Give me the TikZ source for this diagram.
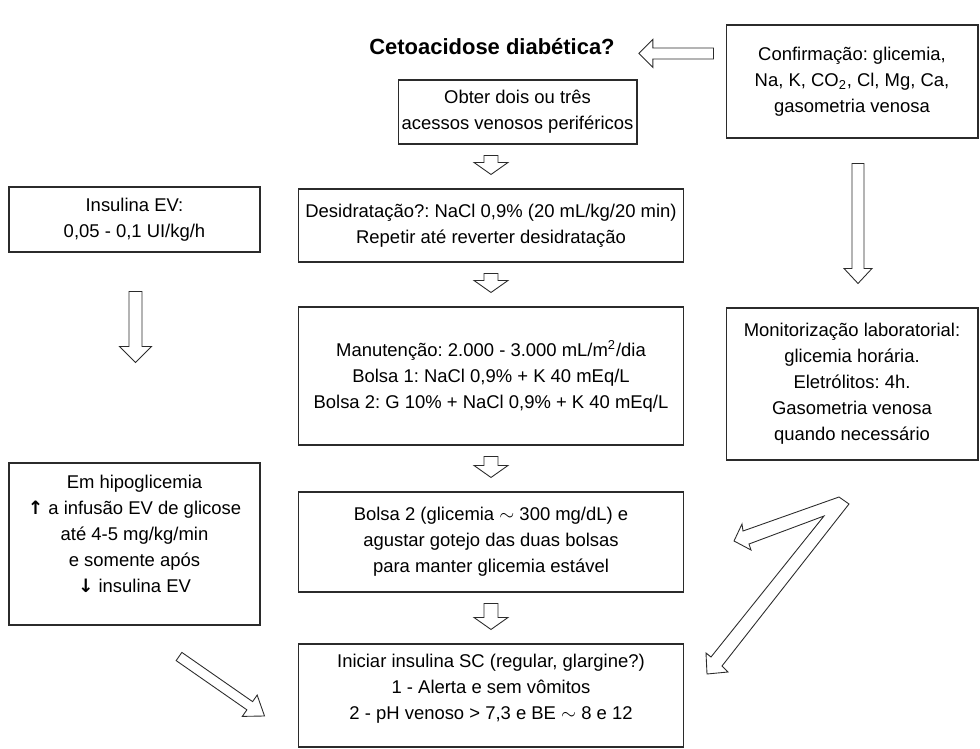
\documentclass[tikz,border=0pt]{standalone}
\usepackage{fontspec}
\setmainfont{Liberation Sans}
\newfontfamily\symfont{DejaVu Sans}
\usetikzlibrary{calc, positioning}
\definecolor{linha}{HTML}{2b2b2b}
\frenchspacing

\newcommand{\hollowarrow}[5]{%
  \coordinate (ha) at ($(#2)!#5!(#1)$);
  \draw[blockarrow] ($(#1)!#3!90:(#2)$) -- ($(ha)!#3!-90:(#1)$) -- ($(ha)!#4!-90:(#1)$) -- (#2)
    -- ($(ha)!#4!90:(#1)$) -- ($(ha)!#3!90:(#1)$) -- ($(#1)!#3!-90:(#2)$) -- cycle;
}

\begin{document}
\begin{tikzpicture}[x=0.02cm, y=-0.02cm,
    box/.style={draw = linha, line width=0.6pt, align=center, inner sep=2pt,
        font=\fontsize{10.5}{14.8}\selectfont},
    blockarrow/.style={draw = linha, line width=0.5pt, line join=miter, fill=white},
    titulo/.style={font=\fontsize{12.5}{15}\selectfont\bfseries}]
    \useasboundingbox (0,0) rectangle (980,749);
    \node[titulo] (title) at (492,47) {Cetoacidose diabética?};
    \node[box, minimum width=5.04cm, minimum height=2.26cm] (confirm) at (852,81.5)
        {Confirmação: glicemia,\\ Na, K, CO\textsubscript{2}, Cl, Mg, Ca,\\ gasometria venosa};
    \node[box, minimum width=4.78cm, minimum height=1.28cm] (obter) at (517.5,112)
        {Obter dois ou três\\ acessos venosos periféricos};
    \node[box, minimum width=7.72cm, minimum height=1.46cm] (desid) at (491,225.5)
        {Desidratação?: NaCl 0,9\% (20 mL/kg/20 min)\\ Repetir até reverter desidratação};
    \node[box, minimum width=5.02cm, minimum height=1.30cm] (insul) at (134.5,219.5)
        {Insulina EV:\\ 0,05 - 0,1 UI/kg/h};
    \node[box, minimum width=7.72cm, minimum height=2.76cm] (manut) at (491,376)
        {Manutenção: 2.000 - 3.000 mL/m\textsuperscript{2}/dia\\ Bolsa 1: NaCl 0,9\% + K 40 mEq/L\\ Bolsa 2: G 10\% + NaCl 0,9\% + K 40 mEq/L};
    \node[box, minimum width=5.04cm, minimum height=3.04cm] (monit) at (852,384)
        {Monitorização laboratorial:\\ glicemia horária.\\ Eletrólitos: 4h.\\ Gasometria venosa\\ quando necessário};
    \node[box, minimum width=5.02cm, minimum height=3.24cm] (hipo) at (134.5,544)
        {Em hipoglicemia\\ {\symfont\bfseries ↑} a infusão EV de glicose\\ até 4-5 mg/kg/min\\ e somente após\\ {\symfont\bfseries ↓} insulina EV\\[-3pt] \mbox{}};
    \node[box, minimum width=7.72cm, minimum height=2.00cm] (bolsa) at (491,542)
        {Bolsa 2 (glicemia $\sim$ 300 mg/dL) e\\ agustar gotejo das duas bolsas\\ para manter glicemia estável};
    \node[box, minimum width=7.72cm, minimum height=2.06cm] (inic) at (491,695.5)
        {Iniciar insulina SC (regular, glargine?)\\ 1 - Alerta e sem vômitos\\ 2 - pH venoso > 7,3 e BE $\sim$ 8 e 12\\[-5pt] \mbox{}};

    \coordinate (confA) at ($(confirm.west)+(-12,-28)$);
    \coordinate (confB) at ($(title.east)+(18,6.5)$);
    \hollowarrow{confA}{confB}{0.11cm}{0.28cm}{0.28cm}
    \coordinate (confC) at ($(confirm.south)+(6,25)$);
    \coordinate (confD) at ($(monit.north)+(6,-24)$);
    \hollowarrow{confC}{confD}{0.12cm}{0.28cm}{0.30cm}
    \coordinate (insA) at ($(insul.south)+(1,39)$);
    \coordinate (insB) at ($(insA)+(0,71)$);
    \hollowarrow{insA}{insB}{0.13cm}{0.32cm}{0.32cm}
    \coordinate (hipA) at ($(hipo.south)+(44.5,31)$);
    \coordinate (hipB) at ($(inic.west)+(-33,20.5)$);
    \hollowarrow{hipA}{hipB}{0.10cm}{0.26cm}{0.36cm}
    \foreach \a/\b in {desid/obter, manut/desid, bolsa/manut, inic/bolsa}{
        \coordinate (\b A) at ($(\a.north |- \b.south)+(0,11)$);
        \coordinate (\b B) at ($(\a.north)+(0,-14)$);
        \hollowarrow{\b A}{\b B}{0.14cm}{0.34cm}{0.24cm}
    }
    \draw[blockarrow] (839,497) -- (849,504) -- (722,666) -- (728,672) -- (707,674) -- (706,653)
        -- (711,657) -- (824,516) -- (749,544) -- (751,550) -- (734,541) -- (742,524) -- (743,531) -- cycle;
\end{tikzpicture}
\end{document}
